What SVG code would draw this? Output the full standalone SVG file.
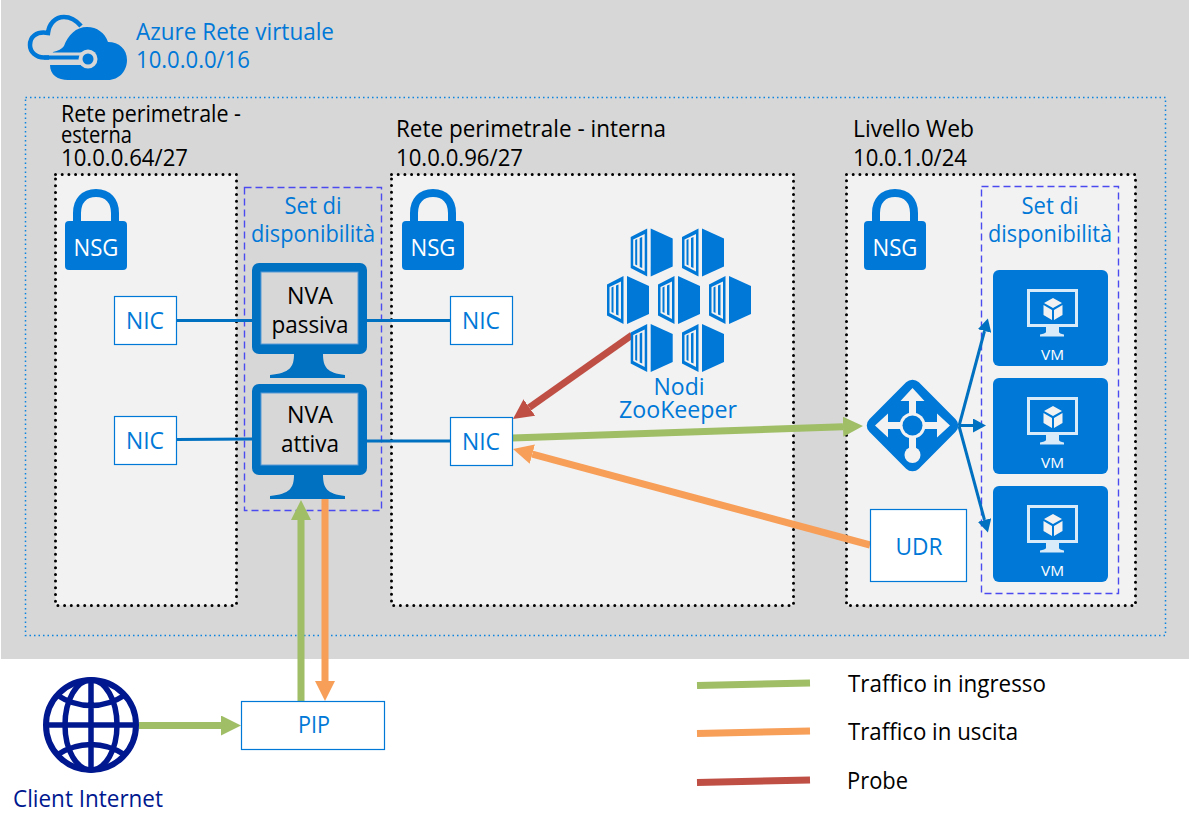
<svg xmlns="http://www.w3.org/2000/svg" width="1189" height="826" viewBox="0 0 1189 826">
<style>
text{font-family:"Open Sans","Noto Sans","Liberation Sans",sans-serif;font-size:23px;fill:#000}
.b{fill:#0078d7}
.n{fill:#00188f}
.w{fill:#fff}
.m{text-anchor:middle}
.zone{fill:#f2f2f2;stroke:#000;stroke-width:3;stroke-linecap:round;stroke-dasharray:0 6.7}
.aset{fill:none;stroke:#4a4af0;stroke-width:1.4;stroke-dasharray:7 4}
.box{fill:#fff;stroke:#0078d7;stroke-width:1.2}
.blue{fill:none;stroke:#0070c0;stroke-width:3}
.gr{fill:none;stroke:#9fbe66;stroke-width:7}
.or{fill:none;stroke:#f79e58;stroke-width:7}
.rd{fill:none;stroke:#bf4f45;stroke-width:7}
</style>
<defs>
<marker id="ag" markerUnits="userSpaceOnUse" markerWidth="20" markerHeight="20" refX="0" refY="10" orient="auto"><path d="M0 0L20 10L0 20Z" fill="#9fbe66"/></marker>
<marker id="ao" markerUnits="userSpaceOnUse" markerWidth="20" markerHeight="20" refX="0" refY="10" orient="auto"><path d="M0 0L20 10L0 20Z" fill="#f79e58"/></marker>
<marker id="ar" markerUnits="userSpaceOnUse" markerWidth="20" markerHeight="20" refX="0" refY="10" orient="auto"><path d="M0 0L20 10L0 20Z" fill="#bf4f45"/></marker>
<marker id="ab" markerUnits="userSpaceOnUse" markerWidth="13" markerHeight="14" refX="0" refY="7" orient="auto"><path d="M0 0L13 7L0 14Z" fill="#0070c0"/></marker>
<g id="lock">
<path d="M12 34V24C12 12 19 4 31 4S50 12 50 24V34" fill="none" stroke="#0078d7" stroke-width="8"/>
<rect x="0" y="32" width="62" height="49" rx="4" fill="#0078d7"/>
</g>
<g id="monitor">
<rect x="0" y="0" width="115" height="91" rx="7" fill="#0070c0"/>
<rect x="9" y="9" width="97" height="72" fill="#d7d7d7" stroke="#5b9bd5" stroke-width="1"/>
<path d="M42 91C42 104 38 110 18 112V115H93V112C75 110 71 104 71 91Z" fill="#0070c0"/>
</g>
<g id="vm">
<rect x="0" y="0" width="115" height="96" rx="6" fill="#0078d7"/>
<rect x="35.500" y="20.500" width="48" height="35" fill="none" stroke="#d9eaf8" stroke-width="3"/>
<path d="M53 57H66V62C66 63 68 64 71 64.500V66.500H47V64.500C50 64 53 63 53 62Z" fill="#d9eaf8"/>
<path d="M60 28L69 33L60 38L51 33Z M50.500 35L59 40V50L50.500 45Z M69.500 35V45L61 50V40Z" fill="#f2f2f2"/>
</g>
<g id="cont">
<path d="M16.500 0V48L0 39.500V8.500Z" fill="#0078d7"/>
<path d="M2.500 11L14 5.500V43L2.500 37Z" fill="#f2f2f2"/>
<path d="M4.500 11.500L6.500 10.500V37L4.500 36ZM9 9.500L11.500 8.500V39.500L9 38.500Z" fill="#0078d7"/>
<path d="M20 0L42 10V38L20 48Z" fill="#0078d7"/>
</g>
</defs>

<rect id="vnet-bg" x="1" y="0" width="1188" height="659" fill="#d7d7d7"/>
<rect id="vnet-frame" x="25.500" y="97.500" width="1140" height="538" fill="none" stroke="#0a84e0" stroke-width="1.500" stroke-dasharray="1.500 3"/>

<g id="azure-vnet">
<path d="M81 26C75 19 70 17 64 17C55 17 49 24 48 33C36 31 30 37 30 45C30 52 36 57.500 44 57.500H85" fill="none" stroke="#0078d7" stroke-width="4.500"/>
<path d="M53 52C58 51 62 49 64 46C68 35 76 27 87 27C97 27 105 33 108 42C119 42 127 49 127 60C127 71 119 80 108 80H68C58 80 50 75 50 65Z" fill="#0078d7"/>
<rect x="49" y="52.500" width="38" height="12.500" fill="#d7d7d7"/>
<path d="M44 57.500H85" stroke="#0078d7" stroke-width="4" fill="none"/>
<circle cx="88" cy="59" r="9.500" fill="#d7d7d7"/>
<circle cx="88" cy="59" r="5.500" fill="#0078d7"/>
<text class="b" x="136" y="40" textLength="198" lengthAdjust="spacingAndGlyphs">Azure Rete virtuale</text>
<text class="b" x="136" y="68" textLength="114" lengthAdjust="spacingAndGlyphs">10.0.0.0/16</text>
</g>

<g id="zone-esterna">
<text x="61" y="122" textLength="180" lengthAdjust="spacingAndGlyphs">Rete perimetrale -</text>
<text x="61" y="143" textLength="71" lengthAdjust="spacingAndGlyphs">esterna</text>
<text x="61" y="166" textLength="127" lengthAdjust="spacingAndGlyphs">10.0.0.64/27</text>
<rect class="zone" x="55.500" y="174.500" width="181" height="431"/>
<use href="#lock" x="65" y="189"/>
<text class="w m" x="96" y="256" textLength="45" lengthAdjust="spacingAndGlyphs">NSG</text>
</g>
<g id="zone-interna">
<text x="396" y="137" textLength="270" lengthAdjust="spacingAndGlyphs">Rete perimetrale - interna</text>
<text x="396" y="166" textLength="127" lengthAdjust="spacingAndGlyphs">10.0.0.96/27</text>
<rect class="zone" x="391.500" y="174.500" width="402" height="431"/>
<use href="#lock" x="402" y="189"/>
<text class="w m" x="433" y="256" textLength="45" lengthAdjust="spacingAndGlyphs">NSG</text>
</g>
<g id="zone-web">
<text x="853" y="137" textLength="121" lengthAdjust="spacingAndGlyphs">Livello Web</text>
<text x="853" y="166" textLength="114" lengthAdjust="spacingAndGlyphs">10.0.1.0/24</text>
<rect class="zone" x="846.500" y="174.500" width="289" height="431"/>
<use href="#lock" x="864" y="189"/>
<text class="w m" x="895" y="256" textLength="45" lengthAdjust="spacingAndGlyphs">NSG</text>
</g>

<g id="aset-nva">
<rect class="aset" x="244.500" y="187.500" width="137" height="323"/>
<text class="b m" x="313" y="214" textLength="57" lengthAdjust="spacingAndGlyphs">Set di</text>
<text class="b m" x="313" y="242" textLength="124" lengthAdjust="spacingAndGlyphs">disponibilità</text>
</g>
<g id="aset-web">
<rect class="aset" x="981.500" y="186.500" width="137" height="407"/>
<text class="b m" x="1050" y="214" textLength="57" lengthAdjust="spacingAndGlyphs">Set di</text>
<text class="b m" x="1050" y="242" textLength="124" lengthAdjust="spacingAndGlyphs">disponibilità</text>
</g>

<g id="connectors">
<path class="blue" d="M177 320.500H252"/>
<path class="blue" d="M367 320.500H450"/>
<path class="blue" d="M177 439.500L252 439"/>
<path class="blue" d="M367 441H450"/>
<path class="rd" d="M632 335L529.300 407.500" marker-end="url(#ar)"/>
<path class="gr" d="M512 438L843 426.700" marker-end="url(#ag)"/>
<path class="or" d="M870 545L532.300 454.200" marker-end="url(#ao)"/>
<path class="gr" d="M301 701V520" marker-end="url(#ag)"/>
<path class="or" d="M325 499V681" marker-end="url(#ao)"/>
<path class="gr" d="M139 725.500H221" marker-end="url(#ag)"/>
<path class="blue" d="M959 426L984.500 331" marker-end="url(#ab)"/>
<path class="blue" d="M959 425.500H973" marker-end="url(#ab)"/>
<path class="blue" d="M959 426L984.500 520" marker-end="url(#ab)"/>
</g>

<g id="nva-passiva"><use href="#monitor" x="252" y="263"/>
<text class="m" x="310" y="304" textLength="46" lengthAdjust="spacingAndGlyphs">NVA</text>
<text class="m" x="310" y="333" textLength="77" lengthAdjust="spacingAndGlyphs">passiva</text></g>
<g id="nva-attiva"><use href="#monitor" x="252" y="384"/>
<text class="m" x="310" y="423" textLength="46" lengthAdjust="spacingAndGlyphs">NVA</text>
<text class="m" x="310" y="452" textLength="58" lengthAdjust="spacingAndGlyphs">attiva</text></g>

<g id="nic-1"><rect class="box" x="114.500" y="296.500" width="62" height="48"/><text class="b m" x="145" y="329" textLength="38" lengthAdjust="spacingAndGlyphs">NIC</text></g>
<g id="nic-2"><rect class="box" x="450.500" y="296.500" width="62" height="48"/><text class="b m" x="481" y="329" textLength="38" lengthAdjust="spacingAndGlyphs">NIC</text></g>
<g id="nic-3"><rect class="box" x="114.500" y="416.500" width="62" height="48"/><text class="b m" x="145" y="449" textLength="38" lengthAdjust="spacingAndGlyphs">NIC</text></g>
<g id="nic-4"><rect class="box" x="450.500" y="417.500" width="62" height="48"/><text class="b m" x="481" y="450" textLength="38" lengthAdjust="spacingAndGlyphs">NIC</text></g>

<g id="zookeeper">
<use href="#cont" x="630.700" y="228.500"/>
<use href="#cont" x="682" y="228.500"/>
<use href="#cont" x="607" y="276"/>
<use href="#cont" x="658" y="276"/>
<use href="#cont" x="709" y="276"/>
<use href="#cont" x="630.700" y="324"/>
<use href="#cont" x="682" y="324"/>
<text class="b m" x="679" y="395" textLength="51" lengthAdjust="spacingAndGlyphs">Nodi</text>
<text class="b m" x="678" y="418" textLength="118" lengthAdjust="spacingAndGlyphs">ZooKeeper</text>
</g>

<g id="load-balancer">
<rect x="877.500" y="390.500" width="70" height="70" rx="9" transform="rotate(45 912.500 425.500)" fill="#0078d7"/>
<path d="M912.500 388L924.500 401H916V416H909V401H900.500Z" fill="#f2f2f2"/>
<path d="M875 425.500L888 413.500V422H904V429H888V437.500Z" fill="#f2f2f2"/>
<path d="M950 425.500L937 413.500V422H921V429H937V437.500Z" fill="#f2f2f2"/>
<rect x="909" y="435" width="7" height="14" fill="#f2f2f2"/>
<circle cx="912.500" cy="455" r="8" fill="#f2f2f2"/>
<circle cx="912.500" cy="425.500" r="13" fill="#f2f2f2"/>
<circle cx="912.500" cy="425.500" r="10" fill="#0078d7"/>
</g>

<g id="udr"><rect class="box" x="870.500" y="509.500" width="96" height="72"/><text class="b m" x="919" y="555" textLength="47" lengthAdjust="spacingAndGlyphs">UDR</text></g>

<g id="vm-1"><use href="#vm" x="993" y="270"/><text class="w m" x="1052.500" y="360" style="font-size:15px" textLength="23" lengthAdjust="spacingAndGlyphs">VM</text></g>
<g id="vm-2"><use href="#vm" x="993" y="378"/><text class="w m" x="1052.500" y="468" style="font-size:15px" textLength="23" lengthAdjust="spacingAndGlyphs">VM</text></g>
<g id="vm-3"><use href="#vm" x="993" y="486"/><text class="w m" x="1052.500" y="576" style="font-size:15px" textLength="23" lengthAdjust="spacingAndGlyphs">VM</text></g>

<g id="pip"><rect class="box" x="241.500" y="701.500" width="143" height="48"/><text class="b m" x="314" y="733" textLength="32" lengthAdjust="spacingAndGlyphs">PIP</text></g>

<g id="client-internet">
<circle cx="91" cy="725" r="45" fill="#fff" stroke="#00188f" stroke-width="6"/>
<g fill="none" stroke="#00188f" stroke-width="5.500">
<ellipse cx="91" cy="725" rx="26" ry="45"/>
<path d="M91 680V770M46 725H136M57 695C78 709 104 709 125 695M57 755C78 741 104 741 125 755"/>
</g>
<text class="n" x="13" y="807" textLength="150" lengthAdjust="spacingAndGlyphs">Client Internet</text>
</g>

<g id="legend">
<path class="gr" d="M697 685.500L810 683"/>
<path class="or" d="M697 733.500L810 731"/>
<path class="rd" d="M697 782.500L810 780"/>
<text x="848" y="692" textLength="198" lengthAdjust="spacingAndGlyphs">Traffico in ingresso</text>
<text x="848" y="740" textLength="170" lengthAdjust="spacingAndGlyphs">Traffico in uscita</text>
<text x="847" y="789" textLength="61" lengthAdjust="spacingAndGlyphs">Probe</text>
</g>
</svg>
